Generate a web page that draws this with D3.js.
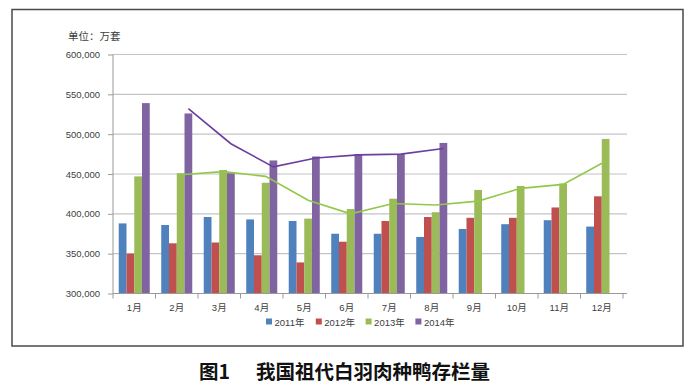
<!DOCTYPE html>
<html>
<head>
<meta charset="utf-8">
<script src="https://d3js.org/d3.v7.min.js"></script>
<style>
 body {margin:0; background:#fff;}
 text {font-family: "Liberation Sans", "Noto Sans CJK SC", sans-serif; fill:#404040;}
</style>
</head>
<body>
<svg width=691 height=387></svg>
<script>

// data (unit: 万套)
var months = ['1月','2月','3月','4月','5月','6月','7月','8月','9月','10月','11月','12月'];
var years = ['2011年','2012年','2013年','2014年'];
var v2011 = [388000,386000,396000,393000,391000,375000,375000,371000,381000,387000,392000,384000];
var v2012 = [350000,363000,364000,348000,339000,365000,391000,396000,395000,395000,408000,422000];
var v2013 = [447000,451000,455000,439000,394000,406000,419000,402000,430000,435000,438000,494000];
var v2014 = [539000,526000,451000,467000,472000,475000,475000,489000];
// the two trend lines (from 2月 onward)
var trend2013 = [null,449000,453000,447000,417000,400000,413000,411000,416000,432000,437000,466000];
var trend2014 = [null,532000,488000,459000,470000,474000,475000,482000];
var yTicks = [300000,350000,400000,450000,500000,550000,600000];

var colors = ['#4f81bd','#c0504d','#9bbb59','#8064a2'];
var series = [v2011, v2012, v2013, v2014];

var svg = d3.select('svg');

// outer frame
svg.append('rect')
  .attr('x',12).attr('y',9.5).attr('width',671).attr('height',336.5)
  .attr('fill','none').attr('stroke','#4a4a4a').attr('stroke-width',1.5);

var x = d3.scaleBand().domain(months).range([113,623]).paddingInner(0.27).paddingOuter(0.135);
var xs = d3.scaleBand().domain(years).range([0, x.bandwidth()]);
var y = d3.scaleLinear().domain([300000,600000]).range([293.5,54.5]);

// grid
svg.append('g').selectAll('line')
  .data(yTicks.slice(1))
  .enter().append('line')
   .attr('x1',113).attr('x2',627)
   .attr('y1',function(d){return y(d);}).attr('y2',function(d){return y(d);})
   .attr('stroke','#c4c4c4').attr('stroke-width',1.2);

// y axis
var ya = svg.append('g')
  .attr('transform','translate(113,0)')
  .call(d3.axisLeft(y).tickValues(yTicks).tickFormat(d3.format(',')).tickSize(5).tickPadding(8));
ya.select('.domain').attr('stroke','#999').attr('d','M0,'+y(300000)+'V'+y(600000));
ya.selectAll('.tick line').attr('stroke','#999');
ya.selectAll('text').style('font-size','9.5px').attr('fill','#404040');

// bars
series.forEach(function(vals, si) {
  svg.append('g').selectAll('rect')
    .data(vals)
    .enter().append('rect')
     .attr('x', function(d,i){return x(months[i]) + xs(years[si]);})
     .attr('y', function(d){return y(d);})
     .attr('width', xs.bandwidth())
     .attr('height', function(d){return y(300000) - y(d);})
     .attr('fill', colors[si]);
});

// x axis
var xa = svg.append('g').attr('transform','translate(0,293.5)');
xa.append('line').attr('x1',113).attr('x2',627).attr('stroke','#999');
xa.selectAll('line.tk')
  .data(d3.range(13))
  .enter().append('line')
   .attr('class','tk')
   .attr('x1', function(k){return 113 + x.step()*k;})
   .attr('x2', function(k){return 113 + x.step()*k;})
   .attr('y1',0).attr('y2',5).attr('stroke','#999');
xa.selectAll('text')
  .data(months)
  .enter().append('text')
   .attr('x', function(d){return x(d) + x.bandwidth()/2;})
   .attr('y', 17)
   .attr('text-anchor','middle')
   .style('font-size','9.5px')
   .text(function(d){return d;});

// trend lines
function trendLine(vals, si, color) {
  var pts = vals.map(function(d,i){return {m: months[i], v: d};}).filter(function(p){return p.v != null;});
  var line = d3.line()
    .x(function(p){return x(p.m) + xs(years[si]) + xs.bandwidth()/2;})
    .y(function(p){return y(p.v);});
  svg.append('path').datum(pts)
    .attr('d', line).attr('fill','none')
    .attr('stroke', color).attr('stroke-width',1.6);
}
trendLine(trend2013, 2, '#92c84a');
trendLine(trend2014, 3, '#6a3f9e');

// unit label
svg.append('text').attr('x',68).attr('y',40)
  .style('font-size','10.5px').attr('fill','#222').text('单位：万套');

// legend
var lg = svg.append('g').selectAll('g')
  .data(years)
  .enter().append('g')
   .attr('transform', function(d,i){return 'translate(' + (266 + i*49.8) + ',322)';});
lg.append('rect').attr('x',0).attr('y',-3.5).attr('width',6).attr('height',6)
  .attr('fill', function(d,i){return colors[i];});
lg.append('text').attr('x',8.5).attr('y',3.5)
  .style('font-size','9.5px').text(function(d){return d;});

// caption
var cap = svg.append('text').attr('y',379)
  .style('font-family','"Noto Sans CJK SC", sans-serif')
  .style('font-size','19.5px').style('font-weight','700');
cap.append('tspan').attr('x',199).style('fill','#111').text('图1');
cap.append('tspan').attr('x',256).style('fill','#111').text('我国祖代白羽肉种鸭存栏量');

</script>
</body>
</html>
